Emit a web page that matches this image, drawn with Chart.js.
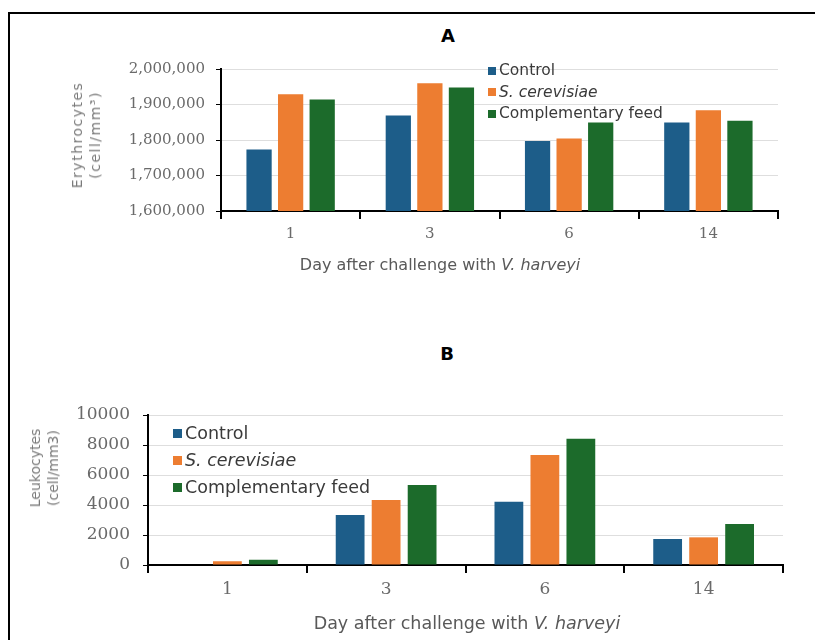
<!DOCTYPE html>
<html>
<head>
<meta charset="utf-8">
<script src="https://cdn.jsdelivr.net/npm/chart.js@4.4.1/dist/chart.umd.min.js"></script>
<style>
    html, body { margin: 0; padding: 0; background: #fff; }
    body { width: 815px; height: 640px; position: relative; overflow: hidden; font-family: "DejaVu Sans", sans-serif; }
    .frame { position: absolute; left: 8px; top: 12px; width: 900px; height: 700px; border-top: 2px solid #000; border-left: 2px solid #000; }
    .panel { position: absolute; left: 0; width: 815px; }
    .letter { position: absolute; font-weight: bold; font-size: 18px; color: #000; transform: translate(-50%, -50%); }
    .xtitle { position: absolute; color: #595959; white-space: nowrap; transform: translate(-50%, -50%); }
    .ytitle { position: absolute; color: #7a7a7a; white-space: pre; text-align: center; line-height: 18px; transform: translate(-50%, -50%) rotate(-90deg); }
    .legend { position: absolute; color: #3a3a3a; white-space: nowrap; }
    .legend-row { display: flex; align-items: center; }
    .swatch { display: inline-block; margin-right: 3px; }
</style>
</head>
<body>
<div class="frame"></div>

<div class="letter" style="left:448px; top:35px;">A</div>
<div class="panel" style="top:40px; height:230px;"><canvas id="chartA"></canvas></div>
<div class="ytitle" style="left:86px; top:135px; font-size:14px; letter-spacing:1.5px;">Erythrocytes
(cell/mm³)</div>
<div class="xtitle" style="left:440px; top:264px; font-size:16px;">Day after challenge with <i>V. harveyi</i></div>
<div class="legend" id="legendA" style="left:488px; top:60px; font-size:15.5px; line-height:21.5px;"></div>

<div class="letter" style="left:447px; top:353px;">B</div>
<div class="panel" style="top:380px; height:260px;"><canvas id="chartB"></canvas></div>
<div class="ytitle" style="left:44px; top:468px; font-size:14px; letter-spacing:0px;">Leukocytes
(cell/mm3)</div>
<div class="xtitle" style="left:467px; top:623px; font-size:17.5px;">Day after challenge with <i>V. harveyi</i></div>
<div class="legend" id="legendB" style="left:173px; top:420px; font-size:17.5px; line-height:27px;"></div>

<script>
// Categories and series
const days = ['1', '3', '6', '14'];
const seriesNames = ['Control', 'S. cerevisiae', 'Complementary feed'];
const italicNames = ['S. cerevisiae'];
const seriesColors = ['#1d5d89', '#ed7d31', '#1c6b2b'];

// A: erythrocytes (cell/mm3)
const erythControl = [1773000, 1869000, 1797000, 1849000];
const erythCerevisiae = [1929000, 1960000, 1804000, 1884000];
const erythFeed = [1914000, 1948000, 1849000, 1854000];
const erythMin = 1600000;
const erythMax = 2000000;
const erythStep = 100000;

// B: leukocytes (cell/mm3)
const leukoControl = [0, 3333, 4222, 1733];
const leukoCerevisiae = [250, 4333, 7333, 1844];
const leukoFeed = [350, 5333, 8422, 2733];
const leukoMin = 0;
const leukoMax = 10000;
const leukoStep = 2000;

function makeDatasets(values) {
    return values.map((data, i) => ({
        label: seriesNames[i],
        data: data,
        backgroundColor: seriesColors[i],
        borderWidth: 0,
        categoryPercentage: 0.68,
        barPercentage: 0.8
    }));
}

function makeChart(canvasId, values, cfg) {
    const ctx = document.getElementById(canvasId).getContext('2d');
    return new Chart(ctx, {
        type: 'bar',
        data: {
            labels: days,
            datasets: makeDatasets(values)
        },
        options: {
            responsive: true,
            maintainAspectRatio: false,
            animation: false,
            layout: {
                padding: { top: cfg.padTop, right: cfg.padRight, left: 0, bottom: 0 }
            },
            plugins: {
                legend: { display: false },
                tooltip: { enabled: false }
            },
            scales: {
                x: {
                    offset: true,
                    grid: {
                        offset: true,
                        drawOnChartArea: false,
                        drawTicks: true,
                        tickLength: 8,
                        color: '#000',
                        lineWidth: 2
                    },
                    border: { color: '#000', width: 2 },
                    ticks: {
                        color: '#6a6a6a',
                        padding: 6,
                        font: { family: 'DejaVu Serif', size: cfg.tickSize }
                    },
                    afterFit: (scale) => { scale.height = cfg.xHeight; }
                },
                y: {
                    min: cfg.min,
                    max: cfg.max,
                    grid: {
                        color: '#dedede',
                        tickColor: '#000',
                        tickLength: 5,
                        lineWidth: 1
                    },
                    border: { color: '#000', width: 2 },
                    ticks: {
                        stepSize: cfg.step,
                        color: '#6a6a6a',
                        padding: cfg.tickPad,
                        font: { family: 'DejaVu Serif', size: cfg.ySize },
                        callback: cfg.format
                    },
                    afterFit: (scale) => { scale.width = cfg.yWidth; }
                }
            }
        }
    });
}

function buildLegend(chart, id, boxSize) {
    const box = document.getElementById(id);
    chart.data.datasets.forEach(ds => {
        const row = document.createElement('div');
        row.className = 'legend-row';
        const name = italicNames.includes(ds.label) ? `<i>${ds.label}</i>` : ds.label;
        row.innerHTML = `<span class="swatch" style="width:${boxSize}px;height:${boxSize}px;background:${ds.backgroundColor}"></span>${name}`;
        box.appendChild(row);
    });
}

const chartA = makeChart('chartA', [erythControl, erythCerevisiae, erythFeed], {
    min: erythMin, max: erythMax, step: erythStep,
    padTop: 29, padRight: 37, yWidth: 221, xHeight: 59,
    tickSize: 15, ySize: 15, tickPad: 11,
    format: (v) => v.toLocaleString('en-US')
});

const chartB = makeChart('chartB', [leukoControl, leukoCerevisiae, leukoFeed], {
    min: leukoMin, max: leukoMax, step: leukoStep,
    padTop: 35, padRight: 32, yWidth: 148, xHeight: 75,
    tickSize: 17, ySize: 17, tickPad: 13,
    format: (v) => String(v)
});

buildLegend(chartA, 'legendA', 8);
buildLegend(chartB, 'legendB', 9);
</script>
</body>
</html>
